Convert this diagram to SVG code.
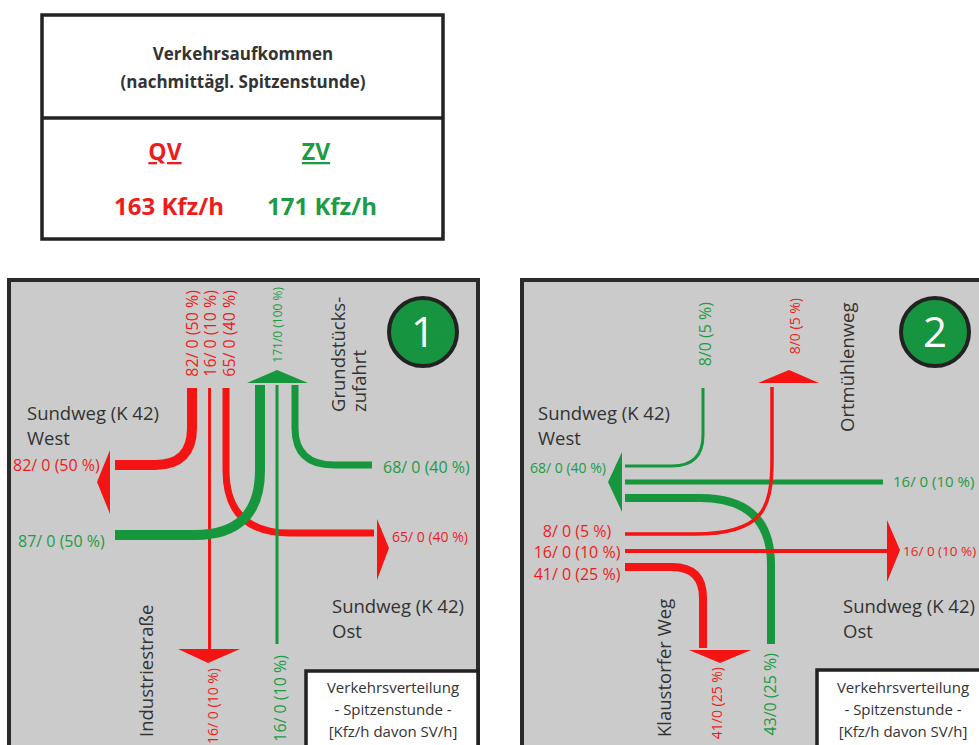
<svg xmlns="http://www.w3.org/2000/svg" width="979" height="745" viewBox="0 0 979 745">
<style>
text{font-family:"Open Sans","Noto Sans","Liberation Sans",sans-serif}
.dk{fill:#333333}
.r{fill:#ee1c1c}
.g{fill:#1d9b45}
.road{font-size:18.5px}
.lb{font-size:16px}
.lbs{font-size:14px}
.panel{fill:#cbcbcb;stroke:#2a2a2a;stroke-width:4}
.box{fill:#ffffff;stroke:#222222;stroke-width:3.5}
.rl{fill:none;stroke:#f41414}
.gl{fill:none;stroke:#17973d}
.ra{fill:#f41414}
.ga{fill:#17973d}
.circ{fill:#169440;stroke:#222222;stroke-width:4}
.num{fill:#ffffff;font-size:42px}
.leg{font-size:15px;fill:#333333}
</style>
<rect width="979" height="745" fill="#ffffff"/>

<g id="summary">
<rect class="box" x="42" y="15" width="401" height="224"/>
<line x1="42" y1="118" x2="443" y2="118" stroke="#222222" stroke-width="3.5"/>
<text x="243" y="60" text-anchor="middle" class="dk" font-size="17" font-weight="bold">Verkehrsaufkommen</text>
<text x="243" y="88" text-anchor="middle" class="dk" font-size="17" font-weight="bold">(nachmittägl. Spitzenstunde)</text>
<text x="165" y="160" text-anchor="middle" class="r" font-size="23" font-weight="bold" text-decoration="underline">QV</text>
<text x="316" y="160" text-anchor="middle" class="g" font-size="23" font-weight="bold" text-decoration="underline">ZV</text>
<text x="169" y="215" text-anchor="middle" class="r" font-size="24" font-weight="bold">163 Kfz/h</text>
<text x="322" y="215" text-anchor="middle" class="g" font-size="24" font-weight="bold">171 Kfz/h</text>
</g>

<g id="panel1">
<rect class="panel" x="9" y="280" width="469" height="480"/>
<g id="p1-badge">
<circle class="circ" cx="423" cy="332" r="34"/>
<text class="num" x="423" y="347" text-anchor="middle">1</text>
</g>
<g id="p1-labels">
<text class="dk road" x="27" y="420">Sundweg (K 42)</text>
<text class="dk road" x="27" y="445">West</text>
<text class="dk road" x="332" y="613">Sundweg (K 42)</text>
<text class="dk road" x="332" y="638">Ost</text>
<text class="dk road" transform="translate(153,737) rotate(-90)">Industriestraße</text>
<text class="dk road" transform="translate(345,412) rotate(-90)">Grundstücks-</text>
<text class="dk road" transform="translate(366,412) rotate(-90)">zufahrt</text>
<text class="r lb" x="13" y="471">82/ 0 (50 %)</text>
<text class="g lb" x="18" y="547">87/ 0 (50 %)</text>
<text class="g lb" x="383" y="473">68/ 0 (40 %)</text>
<text class="r lbs" x="392" y="542">65/ 0 (40 %)</text>
<text class="r lb" text-anchor="end" transform="translate(198,290) rotate(-90)">82/ 0 (50 %)</text>
<text class="r lb" text-anchor="end" transform="translate(216,290) rotate(-90)">16/ 0 (10 %)</text>
<text class="r lb" text-anchor="end" transform="translate(235,290) rotate(-90)">65/ 0 (40 %)</text>
<text class="g" font-size="12" text-anchor="end" transform="translate(282,287) rotate(-90)">171/0 (100 %)</text>
<text class="r lbs" text-anchor="end" transform="translate(218,668) rotate(-90)">16/ 0 (10 %)</text>
<text class="g lb" text-anchor="end" transform="translate(286,655) rotate(-90)">16/ 0 (10 %)</text>
</g>
<g id="p1-legend">
<rect class="box" x="306" y="671" width="172" height="90"/>
<text class="leg" x="393" y="693" text-anchor="middle">Verkehrsverteilung</text>
<text class="leg" x="393" y="715" text-anchor="middle">- Spitzenstunde -</text>
<text class="leg" x="393" y="737" text-anchor="middle">[Kfz/h davon SV/h]</text>
</g>
</g>

<g id="panel2">
<rect class="panel" x="522" y="280" width="480" height="480"/>
<g id="p2-badge">
<circle class="circ" cx="935" cy="332" r="34"/>
<text class="num" x="935" y="347" text-anchor="middle">2</text>
</g>
<g id="p2-labels">
<text class="dk road" x="538" y="420">Sundweg (K 42)</text>
<text class="dk road" x="538" y="445">West</text>
<text class="dk road" x="843" y="613">Sundweg (K 42)</text>
<text class="dk road" x="843" y="638">Ost</text>
<text class="dk road" transform="translate(671,737) rotate(-90)">Klaustorfer Weg</text>
<text class="dk road" transform="translate(854,432) rotate(-90)">Ortmühlenweg</text>
<text class="g lbs" x="530" y="473">68/ 0 (40 %)</text>
<text class="g" font-size="15" x="893" y="487">16/ 0 (10 %)</text>
<text class="r" font-size="13.5" x="903" y="556">16/ 0 (10 %)</text>
<text class="r lb" x="577" y="537" text-anchor="middle">8/ 0 (5 %)</text>
<text class="r lb" x="577" y="558" text-anchor="middle">16/ 0 (10 %)</text>
<text class="r lb" x="577" y="580" text-anchor="middle">41/ 0 (25 %)</text>
<text class="g lb" text-anchor="end" transform="translate(711,302) rotate(-90)">8/0 (5 %)</text>
<text class="r lbs" text-anchor="end" transform="translate(800,298) rotate(-90)">8/0 (5 %)</text>
<text class="r lbs" text-anchor="end" transform="translate(722,667) rotate(-90)">41/0 (25 %)</text>
<text class="g lb" text-anchor="end" transform="translate(776,653) rotate(-90)">43/0 (25 %)</text>
</g>
<g id="p2-legend">
<rect class="box" x="817" y="670" width="180" height="90"/>
<text class="leg" x="903" y="693" text-anchor="middle">Verkehrsverteilung</text>
<text class="leg" x="903" y="715" text-anchor="middle">- Spitzenstunde -</text>
<text class="leg" x="903" y="737" text-anchor="middle">[Kfz/h davon SV/h]</text>
</g>
</g>

<g id="connectors">
<path class="rl" stroke-width="10" d="M192,388 L192,428 Q192,465 155,465 L115,465"/>
<polygon class="ra" points="97,482 110,450 110,514"/>
<path class="rl" stroke-width="3" d="M209.5,388 L209.5,650"/>
<polygon class="ra" points="178,649 240,649 208,663"/>
<path class="rl" stroke-width="7" d="M226,388 L226,470 Q226,533 290,533 L374,533"/>
<polygon class="ra" points="377,519 389,548 377,580"/>
<path class="gl" stroke-width="10" d="M115,535 L195,535 Q260,535 260,470 L260,385"/>
<path class="gl" stroke-width="3" d="M277,385 L277,644"/>
<path class="gl" stroke-width="7" d="M295,385 L295,428 Q295,465 334,465 L372,465"/>
<polygon class="ga" points="247,383 277,370 308,383"/>
<path class="gl" stroke-width="3" d="M703,388 L703,435 Q703,466 672,466 L625,466"/>
<path class="gl" stroke-width="5" d="M625,482 L883,482"/>
<path class="gl" stroke-width="8" d="M625,498 L700,498 Q771,498 771,565 L771,644"/>
<polygon class="ga" points="608,482 622,452 622,512"/>
<path class="rl" stroke-width="3.5" d="M625,534 L695,534 C762,534 772,510 772,460 L772,387"/>
<polygon class="ra" points="758,383 789,370 819,383"/>
<path class="rl" stroke-width="4" d="M625,551 L888,551"/>
<polygon class="ra" points="887,520 900,550 887,582"/>
<path class="rl" stroke-width="8" d="M625,567 L672,567 Q703,567 703,598 L703,648"/>
<polygon class="ra" points="689,650 751,650 720,663"/>
</g>
</svg>
